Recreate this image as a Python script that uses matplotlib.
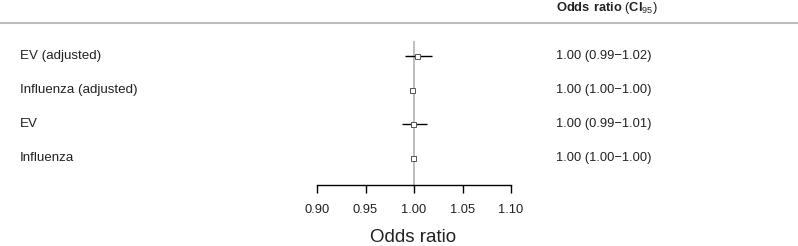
import numpy as np
import matplotlib.pyplot as plt
from matplotlib.lines import Line2D
import matplotlib.transforms as mtransforms

plt.rcParams['font.family'] = ['Liberation Sans', 'DejaVu Sans']
plt.rcParams['mathtext.fontset'] = 'custom'
plt.rcParams['mathtext.rm'] = 'Liberation Sans'
plt.rcParams['mathtext.bf'] = 'Liberation Sans:bold'

# data
labels = ['EV (adjusted)', 'Influenza (adjusted)', 'EV', 'Influenza']
est = [1.003, 0.998, 0.999, 0.999]
lo = [0.991, 0.997, 0.988, 0.998]
hi = [1.019, 0.999, 1.013, 1.000]
ci_text = ['1.00 (0.99\u22121.02)', '1.00 (1.00\u22121.00)',
           '1.00 (0.99\u22121.01)', '1.00 (1.00\u22121.00)']
xticks = [0.90, 0.95, 1.00, 1.05, 1.10]

W, H = 798, 246
fig = plt.figure(figsize=(W / 100, H / 100), dpi=100)
ax = fig.add_axes([317 / W, 1 - 185 / H, 194 / W, (185 - 23) / H])

rows = np.arange(len(labels))
ax.set_xlim(0.90, 1.10)
ax.set_ylim(3.79, -0.97)

ax.axvline(1.0, ymin=0, ymax=(3.79 - (-0.41)) / (3.79 + 0.97),
           color='#bdbdbd', lw=1.4, zorder=1)
ax.hlines(rows, lo, hi, color='black', lw=1.0, zorder=2)
ax.plot(est, rows, 's', ms=3.6, mfc='white', mec='#555555', mew=0.7, zorder=3)

for s in ['top', 'right', 'left']:
    ax.spines[s].set_visible(False)
ax.spines['bottom'].set_linewidth(1.0)
ax.set_yticks([])
ax.set_xticks(xticks)
ax.set_xticklabels(['%.2f' % t for t in xticks], fontsize=9.3, color='#222222')
ax.tick_params(axis='x', length=5.5, width=1.0, pad=8)
ax.patch.set_alpha(0)

trans = mtransforms.blended_transform_factory(fig.transFigure, ax.transData)
for i, (lab, txt) in enumerate(zip(labels, ci_text)):
    ax.text(20 / W, i, lab, transform=trans, ha='left', va='center',
            fontsize=9.6, color='#222222')
    ax.text(556 / W, i, txt, transform=trans, ha='left', va='center',
            fontsize=9.3, color='#222222')

fig.text(556 / W, 1 - 8 / H, r'$\mathbf{Odds\ ratio}$ ($\mathbf{CI}_{\mathrm{95}}$)',
         ha='left', va='center', fontsize=9.3, color='#222222')
fig.add_artist(Line2D([0, 1], [1 - 23 / H, 1 - 23 / H], transform=fig.transFigure,
                      color='#bdbdbd', lw=1.5))

fig.text(413 / W, 1 - 238 / H, 'Odds ratio', ha='center', va='center',
         fontsize=13.5, color='#222222')

fig.savefig('out.png', dpi=100)
